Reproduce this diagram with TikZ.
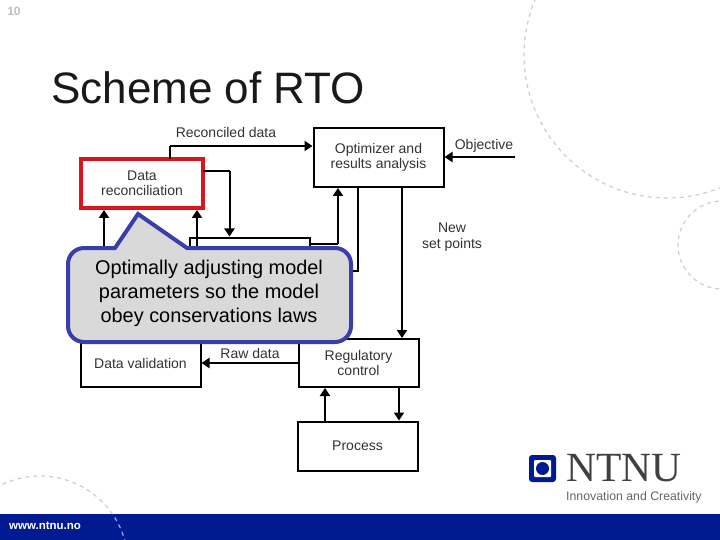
\documentclass[tikz,border=0pt]{standalone}
\usepackage{fontspec}
\setmainfont{Liberation Sans}
\newfontfamily\logofont{Liberation Serif}
\usetikzlibrary{arrows.meta,calc}
\definecolor{barblue}{RGB}{0,27,145}
\definecolor{callblue}{RGB}{58,62,170}
\definecolor{callfill}{RGB}{217,217,217}
\definecolor{recred}{RGB}{220,20,30}
\definecolor{dashgray}{RGB}{205,205,205}
\tikzset{
 x=1pt,y=-1pt,
 bx/.style={draw=black,line width=2pt,fill=white,inner sep=0pt,outer sep=0pt,align=center,text=black!80,font=\fontsize{14}{15.5}\selectfont,anchor=north west},
 lab/.style={inner sep=0pt,align=center,font=\fontsize{14}{16}\selectfont,text=black!80},
 conn/.style={draw=black,line width=2pt,shorten >=1pt,-{Triangle[length=8pt,width=10pt]}},
 wire/.style={draw=black,line width=2pt},
 deco/.style={dash pattern=on 4pt off 4pt,line width=1.2pt}
}
\begin{document}
\begin{tikzpicture}
\useasboundingbox (0,0) rectangle (720,540);
\fill[white] (0,0) rectangle (720,540);
% background arcs
\begin{scope}
\clip (0,0) rectangle (720,514);
\draw[deco,dashgray] (667,55) circle[radius=143];
\draw[deco,dashgray] (722,245) circle[radius=44];
\draw[deco,dashgray] (40,564) circle[radius=88];
\end{scope}
\fill[barblue] (0,514) rectangle (720,540);
\begin{scope}
\clip (0,514) rectangle (720,540);
\draw[deco,blue!35!white] (40,564) circle[radius=88];
\end{scope}
\node[inner sep=0pt,text=black!25,font=\bfseries\fontsize{12}{12}\selectfont] (pgnum) at (14,11) {10};
\node[inner sep=0pt,anchor=west,text=black!90,font=\fontsize{44}{44}\selectfont] (title) at (51,88) {Scheme of RTO};
% boxes
\node[bx,minimum width=130pt,minimum height=59pt] (opt) at (313.5,128) {Optimizer and\\results analysis};
\node[bx,draw=recred,line width=4pt,minimum width=122pt,minimum height=49pt] (rec) at (81,159) {Data\\reconciliation};
\node[bx,minimum width=120pt,minimum height=60pt] (model) at (189.5,237.5) {};
\node[bx,minimum width=120pt,minimum height=48pt] (val) at (80.5,339) {Data validation};
\node[bx,minimum width=120pt,minimum height=48pt] (reg) at (298.5,339) {Regulatory\\control};
\node[bx,minimum width=120pt,minimum height=49pt] (proc) at (297.5,421.5) {Process};
% coordinates
\coordinate (recA) at (170,146);
\coordinate (recB) at (229.5,171);
\coordinate (modA) at (338,244);
\coordinate (optB) at (358,271);
\coordinate (objS) at (515,157);
\coordinate (valL) at (104,248);
\coordinate (valR) at (197,248);
% connectors
\draw[wire] (rec.north -| recA) -- (recA);
\draw[conn] (recA) -- (opt.west |- recA);
\draw[wire] (rec.east |- recB) -- (recB);
\draw[conn] (recB) -- (model.north -| recB);
\draw[wire] (model.east |- modA) -- (modA);
\draw[conn] (modA) -- (opt.south -| modA);
\draw[wire] (opt.south -| optB) -- (optB) -- (model.east |- optB);
\draw[conn] (objS) -- (opt.east |- objS);
\draw[conn] (opt.south -| 402,0) -- (reg.north -| 402,0);
\draw[conn] (reg.west |- 0,363) -- (val.east |- 0,363);
\draw[conn] (proc.north -| 325,0) -- (reg.south -| 325,0);
\draw[conn] (reg.south -| 399,0) -- (proc.north -| 399,0);
\draw[conn,shorten >=2pt] (valL) -- (rec.south -| valL);
\draw[conn,shorten >=2pt] (valR) -- (rec.south -| valR);
% labels
\node[lab] (lrec) at (226,132) {Reconciled data};
\node[lab] (lobj) at (484,146) {Objective};
\node[lab] (lnew) at (452,237.5) {New\\set points};
\node[lab] (lraw) at (250,353) {Raw data};
% callout
\draw[line width=4pt,draw=callblue,fill=callfill,line join=miter]
 (84,248) -- (115,248) -- (138,214) -- (187,248) -- (335,248)
 arc[start angle=-90,end angle=0,radius=16] -- (351,326)
 arc[start angle=0,end angle=90,radius=16] -- (84,342)
 arc[start angle=90,end angle=180,radius=16] -- (68,264)
 arc[start angle=180,end angle=270,radius=16] -- cycle;
\node[inner sep=0pt,align=center,text=black,font=\fontsize{19.9}{24}\selectfont] (ctext) at (209,293.5) {Optimally adjusting model\\parameters so the model\\obey conservations laws};
% logo
\fill[barblue,rounded corners=3pt] (529,455) rectangle (556,482);
\fill[white,rounded corners=1pt] (534,460) rectangle (551,477);
\fill[barblue] (542.5,468.5) circle[radius=6.5];
\node[inner sep=0pt,anchor=west,text=black!75,font=\logofont\fontsize{41.5}{41.5}\selectfont] (ntnu) at (566,468) {NTNU};
\node[inner sep=0pt,anchor=west,text=black!60,font=\fontsize{12.3}{12}\selectfont] (tag) at (566,497) {Innovation and Creativity};
\node[inner sep=0pt,anchor=west,text=white,font=\bfseries\fontsize{11.5}{12}\selectfont] (web) at (9,526) {www.ntnu.no};
\end{tikzpicture}
\end{document}
